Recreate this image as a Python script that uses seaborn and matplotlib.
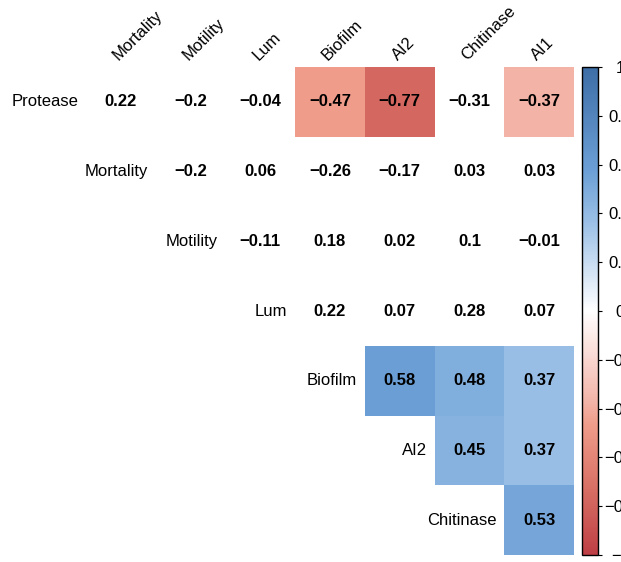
import numpy as np
import pandas as pd
import matplotlib
matplotlib.use("Agg")
import matplotlib.pyplot as plt
import matplotlib.transforms as mtransforms
from matplotlib.colors import LinearSegmentedColormap
import seaborn as sns

# labels of the upper-triangle correlation matrix
row_labels = ['Protease', 'Mortality', 'Motility', 'Lum', 'Biofilm', 'AI2', 'Chitinase']
col_labels = ['Mortality', 'Motility', 'Lum', 'Biofilm', 'AI2', 'Chitinase', 'AI1']

# values per row, starting at the diagonal
protease = [0.22, -0.2, -0.04, -0.47, -0.77, -0.31, -0.37]
mortality = [-0.2, 0.06, -0.26, -0.17, 0.03, 0.03]
motility = [-0.11, 0.18, 0.02, 0.1, -0.01]
lum = [0.22, 0.07, 0.28, 0.07]
biofilm = [0.58, 0.48, 0.37]
ai2 = [0.45, 0.37]
chitinase = [0.53]

cbar_ticks = [1, 0.8, 0.6, 0.4, 0.2, 0, -0.2, -0.4, -0.6, -0.8, -1]
sig_cut = 0.35  # weaker correlations are left blank

#----------------------------------------------------------------------------------------------
rows = [protease, mortality, motility, lum, biofilm, ai2, chitinase]
n = len(col_labels)
corr = np.full((n, n), np.nan)
for i, vals in enumerate(rows):
    corr[i, i:] = vals
corr_df = pd.DataFrame(corr, index=row_labels, columns=col_labels)
fill_df = corr_df.where(corr_df.abs() >= sig_cut, 0.0).where(corr_df.notna())

annot = corr_df.map(lambda v: '' if np.isnan(v) else f"{v:g}".replace('-', '\u2212'))

# odd N so that 0 lands exactly on white
cmap = LinearSegmentedColormap.from_list('corr', [
    (0.0, '#be3f45'),
    (0.115, '#d4685f'),
    (0.265, '#ef9c8a'),
    (0.315, '#f3b4a8'),
    (0.5, '#ffffff'),
    (0.685, '#9abfe6'),
    (0.79, '#6b9fd5'),
    (1.0, '#3e6ea6'),
], N=257)

plt.rcParams['font.family'] = ['Liberation Sans', 'DejaVu Sans']

fig = plt.figure(figsize=(6.21, 5.62), dpi=100)
W, H = 621, 562
ax = fig.add_axes([86 / W, 7 / H, 488 / W, 488 / H])
cax = fig.add_axes([582 / W, 7 / H, 16 / W, 488 / H])

sns.heatmap(fill_df, mask=corr_df.isna(), cmap=cmap, vmin=-1, vmax=1,
            annot=annot, fmt='', annot_kws={'fontsize': 12, 'fontweight': 'bold', 'color': 'black'},
            cbar_ax=cax, ax=ax, square=False, linewidths=0)

# column labels on top, rotated
ax.xaxis.tick_top()
ax.set_xticks(np.arange(n) + 0.5)
ax.set_xticklabels(col_labels, rotation=45, ha='left', va='bottom',
                   rotation_mode='anchor', fontsize=12)
offset = mtransforms.ScaledTranslation(6 / 100, 0, fig.dpi_scale_trans)
for lab in ax.get_xticklabels():
    lab.set_transform(lab.get_transform() + offset)
ax.tick_params(axis='x', length=0, pad=3)
ax.set_yticks([])
ax.set_xlabel('')
ax.set_ylabel('')

# row labels sit just left of the diagonal cell
for i, name in enumerate(row_labels):
    ax.text(i - 0.11, i + 0.5, name, ha='right', va='center', fontsize=12)

# colorbar
cbar = ax.collections[0].colorbar
cbar.set_ticks(cbar_ticks)
cbar.set_ticklabels([f"{t:g}".replace('-', '\u2212') for t in cbar_ticks])
cbar.outline.set_visible(True)
cbar.outline.set_edgecolor('black')
cbar.outline.set_linewidth(1.0)
cax.tick_params(axis='y', length=3, width=0.8, pad=13, labelsize=12)
for lab in cax.get_yticklabels():
    lab.set_ha('center')

fig.savefig('out.png', dpi=100)
